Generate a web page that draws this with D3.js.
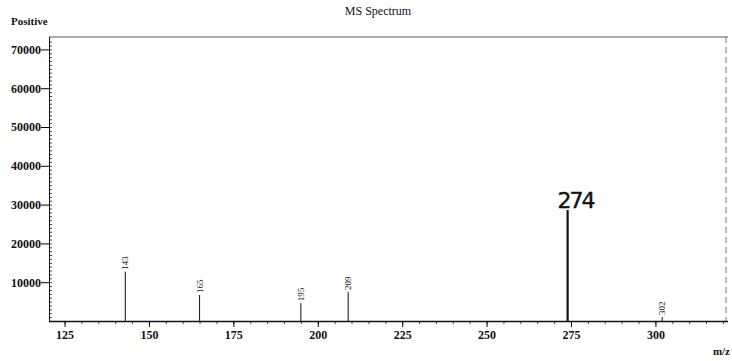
<!DOCTYPE html>
<html>
<head>
<meta charset="utf-8">
<script src="https://cdn.jsdelivr.net/npm/d3@7"></script>
<style>
  body { margin: 0; background: #fff; }
  text { font-family: "Liberation Serif", "DejaVu Serif", serif; fill: #111; }
</style>
</head>
<body>
<div id="chart"></div>
<script>
const width = 732, height = 361;
const margin = { top: 37, right: 4, bottom: 40, left: 49 };

// peaks
const mzValues = [143, 165, 195, 209, 274, 302];
const intensities = [12700, 6700, 4600, 7500, 28600, 1000];
const printedLabels = ["143", "165", "195", "209", "", "302"];
const xTicks = [125, 150, 175, 200, 225, 250, 275, 300];
const yTicks = [10000, 20000, 30000, 40000, 50000, 60000, 70000];
const handLabel = "274";

const svg = d3.select("#chart").append("svg")
  .attr("width", width).attr("height", height);

const x = d3.scaleLinear().domain([120.4, 321.5]).range([margin.left, width - margin.right]);
const y = d3.scaleLinear().domain([0, 73200]).range([height - margin.bottom, margin.top]);

const x0 = x.range()[0], x1 = x.range()[1];
const y0 = y.range()[0], y1 = y.range()[1];

// title and labels
svg.append("text").attr("x", 378).attr("y", 15).attr("text-anchor", "middle")
  .style("font-size", "12px").text("MS Spectrum");
svg.append("text").attr("x", 11).attr("y", 25)
  .style("font-size", "11px").style("font-weight", "bold").text("Positive");
svg.append("text").attr("x", 730).attr("y", 355).attr("text-anchor", "end")
  .style("font-size", "11px").style("font-weight", "bold").text("m/z");

// frame top/right (faint in the scan)
svg.append("line").attr("x1", x0).attr("x2", x1).attr("y1", y1).attr("y2", y1)
  .attr("stroke", "#555").attr("stroke-width", 1);
svg.append("line").attr("x1", x1 - 2).attr("x2", x1 - 2).attr("y1", y1).attr("y2", y0)
  .attr("stroke", "#777").attr("stroke-width", 1).attr("stroke-dasharray", "6,4");

// minor ticks
svg.append("g").attr("transform", `translate(${x0},0)`)
  .call(d3.axisRight(y).tickValues(d3.range(1000, 73000, 1000)).tickSize(3).tickFormat(""))
  .call(g => g.select(".domain").remove())
  .selectAll("line").attr("stroke", "#444");
svg.append("g").attr("transform", `translate(0,${y0})`)
  .call(d3.axisBottom(x).tickValues(d3.range(125, 321, 5)).tickSize(3).tickFormat(""))
  .call(g => g.select(".domain").remove())
  .selectAll("line").attr("stroke", "#444");

// y axis
const yAxis = svg.append("g").attr("transform", `translate(${x0},0)`)
  .call(d3.axisLeft(y).tickValues(yTicks).tickSize(8).tickPadding(0).tickFormat(d3.format("d")));
yAxis.select(".domain").attr("stroke", "#111").attr("d", `M0.5,${y1}V${y0}`);
yAxis.selectAll("text").style("font-size", "12px").style("font-weight", "bold")
  .style("font-family", "Liberation Serif");

// x axis
const xAxis = svg.append("g").attr("transform", `translate(0,${y0})`)
  .call(d3.axisBottom(x).tickValues(xTicks).tickSize(6).tickPadding(3));
xAxis.select(".domain").attr("stroke", "#111").attr("stroke-width", 1.5).attr("d", `M${x0},0.5H${x1}`);
xAxis.selectAll("text").style("font-size", "12px").style("font-weight", "bold")
  .style("font-family", "Liberation Serif");

// peaks
const peaks = mzValues.map((m, i) => ({ m, v: intensities[i], label: printedLabels[i] }));
svg.append("g").selectAll("line").data(peaks).join("line")
  .attr("x1", d => x(d.m)).attr("x2", d => x(d.m))
  .attr("y1", y(0)).attr("y2", d => y(d.v))
  .attr("stroke", "#111")
  .attr("stroke-width", d => d.label === "" ? 2.2 : 1);

svg.append("g").selectAll("text").data(peaks.filter(d => d.label !== "")).join("text")
  .attr("transform", d => `translate(${x(d.m) + 3},${y(d.v) - 2}) rotate(-90)`)
  .style("font-size", "9px").text(d => d.label);

// hand-written annotation of the main peak
const main = peaks[mzValues.indexOf(274)];
svg.append("text").attr("x", x(main.m) + 8).attr("y", y(main.v) - 2)
  .attr("text-anchor", "middle")
  .style("font-family", "DejaVu Sans").style("font-size", "22px")
  .style("letter-spacing", "-2px")
  .attr("stroke", "#111").attr("stroke-width", 0.4)
  .text(handLabel);
</script>
</body>
</html>
